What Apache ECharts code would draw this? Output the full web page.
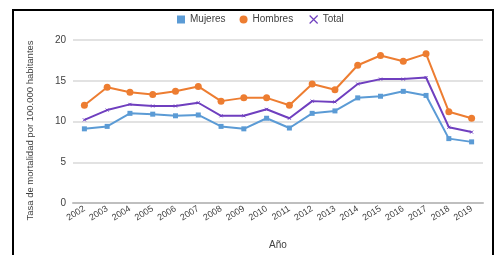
<!DOCTYPE html>
<html>
<head>
<meta charset="utf-8">
<script src="https://cdn.jsdelivr.net/npm/echarts@6/dist/echarts.min.js"></script>
<style>
  html, body { margin: 0; padding: 0; background: #fff; }
  #chart { width: 496px; height: 255px; }
</style>
</head>
<body>
<div id="chart"></div>
<script>
  const years = ['2002', '2003', '2004', '2005', '2006', '2007', '2008', '2009', '2010',
    '2011', '2012', '2013', '2014', '2015', '2016', '2017', '2018', '2019']
  const mujeres = [9.1, 9.4, 11.0, 10.9, 10.7, 10.8, 9.4, 9.1, 10.4, 9.2, 11.0, 11.3, 12.9, 13.1, 13.7, 13.2, 7.9, 7.5]
  const hombres = [12.0, 14.2, 13.6, 13.3, 13.7, 14.3, 12.5, 12.9, 12.9, 12.0, 14.6, 13.9, 16.9, 18.1, 17.4, 18.3, 11.2, 10.4]
  const total = [10.2, 11.4, 12.1, 11.9, 11.9, 12.3, 10.7, 10.7, 11.5, 10.4, 12.5, 12.4, 14.6, 15.2, 15.2, 15.4, 9.3, 8.7]
  const yTicks = [0, 5, 10, 15, 20]

  const xPath = 'path://M0,0L10,10M10,0L0,10'
  const font = 'Liberation Sans'

  const chart = echarts.init(document.getElementById('chart'))
  chart.setOption({
    animation: false,
    textStyle: { fontFamily: font },
    graphic: [{
      type: 'rect',
      shape: { x: 13, y: 10, width: 480, height: 270 },
      style: { fill: 'none', stroke: '#000', lineWidth: 2 }
    }],
    legend: {
      top: 8,
      left: 172,
      itemWidth: 8,
      itemHeight: 8,
      itemGap: 14,
      itemTextGap: 8,
      textStyle: { fontSize: 10, color: '#404040', fontFamily: font },
      data: [
        { name: 'Mujeres', icon: 'rect' },
        { name: 'Hombres', icon: 'circle' },
        { name: 'Total', icon: xPath, itemStyle: { borderColor: '#6f3fbf', borderWidth: 1.2, color: 'none' } }
      ]
    },
    grid: { left: 73, right: 13, top: 40, bottom: 47 },
    xAxis: {
      type: 'category',
      data: years,
      boundaryGap: true,
      name: 'Año',
      nameLocation: 'middle',
      nameGap: 37,
      nameTextStyle: { fontSize: 10, color: '#404040' },
      axisLine: { lineStyle: { color: '#bfbfbf', width: 2 } },
      axisTick: { show: false },
      axisLabel: { rotate: 32, fontSize: 9, color: '#404040', margin: 5, interval: 0 }
    },
    yAxis: {
      type: 'value',
      min: yTicks[0],
      max: yTicks[yTicks.length - 1],
      interval: 5,
      name: 'Tasa de mortalidad por 100.000 habitantes',
      nameLocation: 'middle',
      nameGap: 38,
      nameTextStyle: { fontSize: 9.5, color: '#404040', padding: [0, 18, 0, 0] },
      axisLine: { show: false },
      axisTick: { show: false },
      axisLabel: { fontSize: 10, color: '#404040', margin: 7 },
      splitLine: { lineStyle: { color: '#d9d9d9', width: 1.5 } }
    },
    series: [
      {
        name: 'Mujeres',
        type: 'line',
        data: mujeres,
        color: '#5b9bd5',
        symbol: 'rect',
        symbolSize: 5,
        lineStyle: { width: 2 }
      },
      {
        name: 'Hombres',
        type: 'line',
        data: hombres,
        color: '#ed7d31',
        symbol: 'circle',
        symbolSize: 7,
        lineStyle: { width: 2 }
      },
      {
        name: 'Total',
        type: 'line',
        data: total,
        color: '#6f3fbf',
        symbol: xPath,
        symbolSize: 3,
        itemStyle: { borderColor: '#6f3fbf', borderWidth: 1 },
        lineStyle: { width: 2 }
      }
    ]
  })
</script>
</body>
</html>
